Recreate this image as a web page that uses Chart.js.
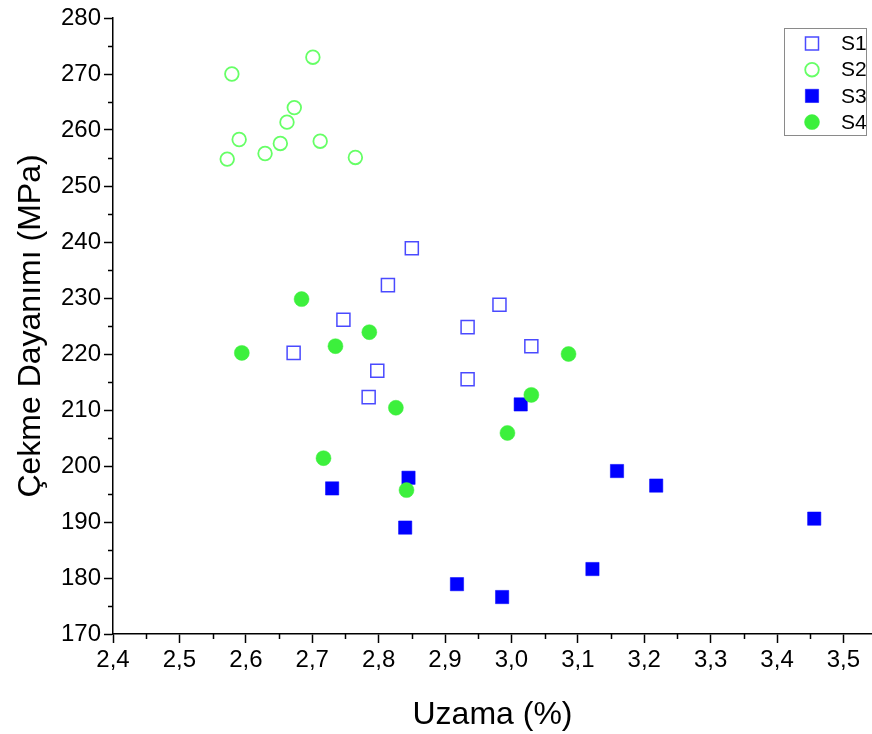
<!DOCTYPE html>
<html>
<head>
<meta charset="utf-8">
<script src="https://cdn.jsdelivr.net/npm/chart.js@4/dist/chart.umd.min.js"></script>
<style>
  html, body { margin: 0; padding: 0; background: #fff; }
  #wrap { width: 872px; height: 734px; }
</style>
</head>
<body>
<div id="wrap"><canvas id="c" width="872" height="734"></canvas></div>
<script>
const seriesNames = ['S1', 'S2', 'S3', 'S4'];

const s1X = [2.850, 2.814, 2.747, 2.672, 2.798, 2.785, 2.982, 2.934, 2.934, 3.030];
const s1Y = [238.9, 232.3, 226.1, 220.2, 217.0, 212.3, 228.8, 224.8, 215.5, 221.4];

const s2X = [2.579, 2.701, 2.673, 2.662, 2.590, 2.652, 2.712, 2.629, 2.572, 2.765];
const s2Y = [270.0, 273.0, 264.0, 261.4, 258.3, 257.6, 258.0, 255.8, 254.8, 255.1];

const s3X = [3.014, 2.845, 2.730, 2.840, 2.918, 2.986, 3.159, 3.122, 3.218, 3.456];
const s3Y = [211.0, 197.9, 196.0, 189.0, 178.9, 176.6, 199.1, 181.6, 196.5, 190.6];

const s4X = [2.684, 2.594, 2.735, 2.786, 2.826, 2.717, 2.842, 2.994, 3.030, 3.086];
const s4Y = [229.8, 220.2, 221.4, 223.9, 210.4, 201.4, 195.7, 205.9, 212.7, 220.0];

const xTicks = [2.4, 2.5, 2.6, 2.7, 2.8, 2.9, 3.0, 3.1, 3.2, 3.3, 3.4, 3.5];
const yTicks = [170, 180, 190, 200, 210, 220, 230, 240, 250, 260, 270, 280];

const xTitle = 'Uzama (%)';
const yTitle = 'Çekme Dayanımı (MPa)';

const FONT = "'Liberation Sans', Arial, sans-serif";

function pts(xs, ys) { return xs.map((x, i) => ({ x: x, y: ys[i] })); }

const styles = [
  { pointStyle: 'rect',   pointRadius: 9.2, backgroundColor: 'rgba(255,255,255,0)', borderColor: '#4a4aff', borderWidth: 1.5, order: 4 },
  { pointStyle: 'circle', pointRadius: 6.8, backgroundColor: 'rgba(255,255,255,0)', borderColor: '#66ff66', borderWidth: 1.8, order: 3 },
  { pointStyle: 'rect',   pointRadius: 9.4, backgroundColor: '#0000ff', borderColor: '#0000ff', borderWidth: 0.5, order: 2 },
  { pointStyle: 'circle', pointRadius: 7.5, backgroundColor: '#3cf03c', borderColor: '#3cf03c', borderWidth: 0.5, order: 1 }
];
const dataSets = [pts(s1X, s1Y), pts(s2X, s2Y), pts(s3X, s3Y), pts(s4X, s4Y)];

const datasets = seriesNames.map((n, i) => Object.assign({
  label: n,
  data: dataSets[i],
  showLine: false,
  pointHoverRadius: styles[i].pointRadius,
  pointBorderWidth: styles[i].borderWidth
}, styles[i]));

const minorTicks = {
  id: 'minorTicks',
  afterDraw(chart) {
    const ctx = chart.ctx, xs = chart.scales.x, ys = chart.scales.y, a = chart.chartArea;
    ctx.save();
    ctx.strokeStyle = '#000';
    ctx.lineWidth = 1.5;
    ctx.beginPath();
    for (let i = 0; i < xTicks.length - 1; i++) {
      const px = Math.round(xs.getPixelForValue((xTicks[i] + xTicks[i + 1]) / 2)) + 0.5;
      ctx.moveTo(px, a.bottom); ctx.lineTo(px, a.bottom + 5);
    }
    for (let i = 0; i < yTicks.length - 1; i++) {
      const py = Math.round(ys.getPixelForValue((yTicks[i] + yTicks[i + 1]) / 2)) + 0.5;
      ctx.moveTo(a.left, py); ctx.lineTo(a.left - 5, py);
    }
    ctx.stroke();
    ctx.restore();
  }
};

const boxLegend = {
  id: 'boxLegend',
  afterDraw(chart) {
    const ctx = chart.ctx, a = chart.chartArea;
    const bw = 82, bh = 107;
    const bx = a.right - bw - 6, by = a.top + 10;
    ctx.save();
    ctx.strokeStyle = '#8a8a8a';
    ctx.lineWidth = 1;
    ctx.strokeRect(bx + 0.5, by + 0.5, bw, bh);
    const rowH = 26.2;
    chart.data.datasets.forEach((ds, i) => {
      const cy = by + 15.5 + i * rowH;
      const cx = bx + 28;
      ctx.fillStyle = ds.backgroundColor;
      ctx.strokeStyle = ds.borderColor;
      ctx.lineWidth = ds.borderWidth;
      Chart.helpers.drawPoint(ctx, { pointStyle: ds.pointStyle, radius: ds.pointRadius, borderWidth: ds.borderWidth, rotation: 0 }, cx, cy);
      ctx.fillStyle = '#000';
      ctx.font = '21px ' + FONT;
      ctx.textBaseline = 'middle';
      ctx.textAlign = 'left';
      ctx.fillText(ds.label, bx + 57, cy + 1);
    });
    ctx.restore();
  }
};

new Chart(document.getElementById('c'), {
  type: 'scatter',
  data: { datasets: datasets },
  plugins: [minorTicks, boxLegend],
  options: {
    responsive: false,
    animation: false,
    layout: { autoPadding: false, padding: { top: 18, right: 0, left: 0, bottom: 0 } },
    plugins: { legend: { display: false }, tooltip: { enabled: false } },
    scales: {
      x: {
        type: 'linear',
        min: 2.4,
        max: 3.543,
        afterBuildTicks: (s) => { s.ticks = xTicks.map(v => ({ value: v })); },
        afterFit: (s) => { s.height = 100; s.paddingRight = 0; s.paddingLeft = 0; },
        ticks: {
          color: '#000',
          font: { family: FONT, size: 24 },
          padding: 3,
          maxRotation: 0,
          autoSkip: false,
          callback: (v) => Number(v).toFixed(1).replace('.', ',')
        },
        grid: { drawOnChartArea: false, drawTicks: true, tickLength: 9, tickColor: '#000', tickWidth: 1.5, color: '#000' },
        border: { display: true, color: '#000', width: 1.5 },
        title: { display: true, text: xTitle, color: '#000', font: { family: FONT, size: 32 }, padding: { top: 0, bottom: 0 } }
      },
      y: {
        type: 'linear',
        min: 170,
        max: 280,
        afterBuildTicks: (s) => { s.ticks = yTicks.map(v => ({ value: v })); },
        afterFit: (s) => { s.width = 113; s.paddingTop = 0; s.paddingBottom = 0; },
        ticks: {
          color: '#000',
          font: { family: FONT, size: 24 },
          padding: 3,
          autoSkip: false
        },
        grid: { drawOnChartArea: false, drawTicks: true, tickLength: 9, tickColor: '#000', tickWidth: 1.5, color: '#000' },
        border: { display: true, color: '#000', width: 1.5 },
        title: { display: true, text: yTitle, color: '#000', font: { family: FONT, size: 32 }, padding: { top: 12, bottom: 0 } }
      }
    }
  }
});
</script>
</body>
</html>
